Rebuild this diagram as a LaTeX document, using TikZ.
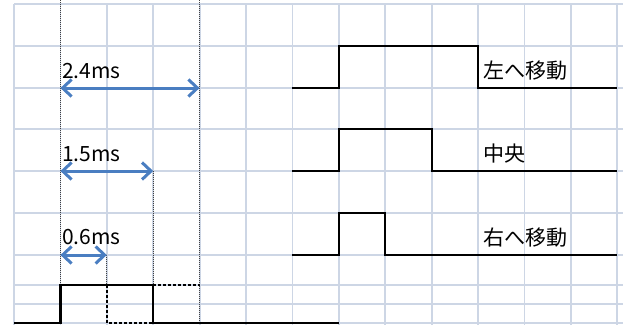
\documentclass[tikz,border=0pt]{standalone}
\usepackage{fontspec}
\setmainfont{Noto Sans CJK JP}
\usepackage{tikz}
\usetikzlibrary{arrows.meta}
\definecolor{gridblue}{RGB}{205,214,229}
\definecolor{arrowblue}{RGB}{74,126,193}
\tikzset{
  grid line/.style={
    draw=gridblue,
    line width=1.8pt
  },
  signal/.style={
    draw=black,
    line width=2.2pt
  },
  dashed pulse/.style={
    dash pattern=on 3pt off 2pt
  },
  guide/.style={
    draw=black!75,
    line width=1.3pt,
    dash pattern=on 1pt off 1pt
  },
  dim arrow/.style={
    draw=arrowblue,
    line width=3pt,
    {Straight Barb[length=9pt,width=17pt]}-{Straight Barb[length=9pt,width=17pt]}
  },
  time text/.style={
    anchor=base west,
    inner sep=0pt,
    font=\fontsize{21}{25}\selectfont
  }
}

\begin{document}
\begin{tikzpicture}[x=1pt, y=-1pt]
  \useasboundingbox (0,0) rectangle (623,325);
  % Grid
  \foreach \x in {0,...,13}
    \draw[grid line] (14+46.4*\x,4) -- (14+46.4*\x,325);
  \foreach \y in {4,46,88,129,171,213,255,285,304,323}
    \draw[grid line] (14,\y) -- (623,\y);

  % Arrow ends
  \coordinate (A0) at (60.4,88);
  \coordinate (A1) at (199.6,88);
  \coordinate (B0) at (60.4,171);
  \coordinate (B1) at (153.2,171);
  \coordinate (C0) at (60.4,255);
  \coordinate (C1) at (106.8,255);

  % Guides
  \draw[guide] (60.4,0) -- (60.4,285);
  \draw[guide] (199.6,0) -- (199.6,323);
  \draw[guide] (B1) -- (153.2,285);
  \draw[guide] (C1) -- (106.8,285);

  % Pulse
  \draw[signal] (14,323) -- (60.4,323) -- (60.4,285) -- (153.2,285) -- (153.2,323) -- (338.8,323);
  \draw[signal, dashed pulse] (106.8,285) -- (106.8,323) -- (153.2,323);
  \draw[signal, dashed pulse] (153.2,285) -- (199.6,285);

  % Waveforms
  \draw[signal] (292.4,88) -- (338.8,88) -- (338.8,46) -- (478,46) -- (478,88) -- (617.2,88);
  \draw[signal] (292.4,171) -- (338.8,171) -- (338.8,129) -- (431.6,129) -- (431.6,171) -- (617.2,171);
  \draw[signal] (292.4,255) -- (338.8,255) -- (338.8,213) -- (385.2,213) -- (385.2,255) -- (617.2,255);

  % Labels
  \node[time text] (T1) at (62,78) {2.4ms};
  \node[time text] (T2) at (62,161) {1.5ms};
  \node[time text] (T3) at (62,244) {0.6ms};
  \node[time text] (W1) at (483,78) {左へ移動};
  \node[time text] (W2) at (483,161) {中央};
  \node[time text] (W3) at (483,245) {右へ移動};

  % Arrows
  \draw[dim arrow] (A0) -- (A1);
  \draw[dim arrow] (B0) -- (B1);
  \draw[dim arrow] (C0) -- (C1);
\end{tikzpicture}
\end{document}
